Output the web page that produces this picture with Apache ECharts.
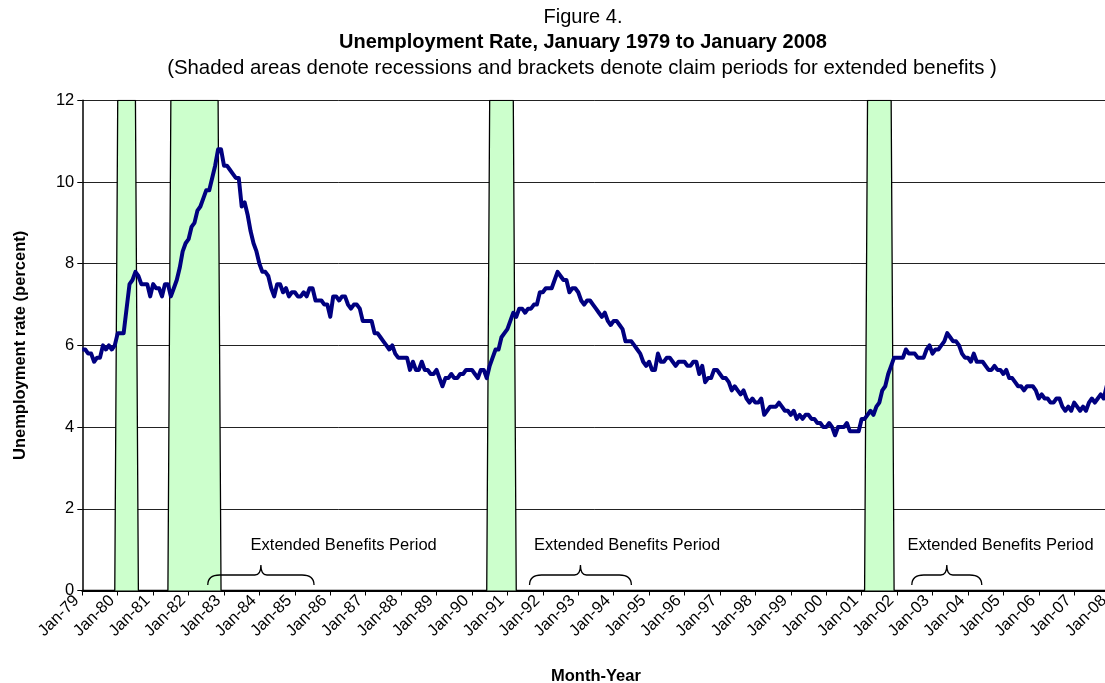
<!DOCTYPE html>
<html>
<head>
<meta charset="utf-8">
<script src="https://cdn.jsdelivr.net/npm/echarts@6/dist/echarts.min.js"></script>
<style>
html,body{margin:0;padding:0;background:#fff;}
#chart{width:1105px;height:683px;}
</style>
</head>
<body>
<div id="chart"></div>
<script>
// Monthly unemployment rate (percent), Jan 1979 .. Jan 2008 (index 0 = Jan-79)
const rate = [
5.9,5.9,5.8,5.8,5.6,5.7,5.7,6.0,5.9,6.0,5.9,6.0,   // 1979
6.3,6.3,6.3,6.9,7.5,7.6,7.8,7.7,7.5,7.5,7.5,7.2,   // 1980
7.5,7.4,7.4,7.2,7.5,7.5,7.2,7.4,7.6,7.9,8.3,8.5,   // 1981
8.6,8.9,9.0,9.3,9.4,9.6,9.8,9.8,10.1,10.4,10.8,10.8, // 1982
10.4,10.4,10.3,10.2,10.1,10.1,9.4,9.5,9.2,8.8,8.5,8.3, // 1983
8.0,7.8,7.8,7.7,7.4,7.2,7.5,7.5,7.3,7.4,7.2,7.3,   // 1984
7.3,7.2,7.2,7.3,7.2,7.4,7.4,7.1,7.1,7.1,7.0,7.0,   // 1985
6.7,7.2,7.2,7.1,7.2,7.2,7.0,6.9,7.0,7.0,6.9,6.6,   // 1986
6.6,6.6,6.6,6.3,6.3,6.2,6.1,6.0,5.9,6.0,5.8,5.7,   // 1987
5.7,5.7,5.7,5.4,5.6,5.4,5.4,5.6,5.4,5.4,5.3,5.3,   // 1988
5.4,5.2,5.0,5.2,5.2,5.3,5.2,5.2,5.3,5.3,5.4,5.4,   // 1989
5.4,5.3,5.2,5.4,5.4,5.2,5.5,5.7,5.9,5.9,6.2,6.3,   // 1990
6.4,6.6,6.8,6.7,6.9,6.9,6.8,6.9,6.9,7.0,7.0,7.3,   // 1991
7.3,7.4,7.4,7.4,7.6,7.8,7.7,7.6,7.6,7.3,7.4,7.4,   // 1992
7.3,7.1,7.0,7.1,7.1,7.0,6.9,6.8,6.7,6.8,6.6,6.5,   // 1993
6.6,6.6,6.5,6.4,6.1,6.1,6.1,6.0,5.9,5.8,5.6,5.5,   // 1994
5.6,5.4,5.4,5.8,5.6,5.6,5.7,5.7,5.6,5.5,5.6,5.6,   // 1995
5.6,5.5,5.5,5.6,5.6,5.3,5.5,5.1,5.2,5.2,5.4,5.4,   // 1996
5.3,5.2,5.2,5.1,4.9,5.0,4.9,4.8,4.9,4.7,4.6,4.7,   // 1997
4.6,4.6,4.7,4.3,4.4,4.5,4.5,4.5,4.6,4.5,4.4,4.4,   // 1998
4.3,4.4,4.2,4.3,4.2,4.3,4.3,4.2,4.2,4.1,4.1,4.0,   // 1999
4.0,4.1,4.0,3.8,4.0,4.0,4.0,4.1,3.9,3.9,3.9,3.9,   // 2000
4.2,4.2,4.3,4.4,4.3,4.5,4.6,4.9,5.0,5.3,5.5,5.7,   // 2001
5.7,5.7,5.7,5.9,5.8,5.8,5.8,5.7,5.7,5.7,5.9,6.0,   // 2002
5.8,5.9,5.9,6.0,6.1,6.3,6.2,6.1,6.1,6.0,5.8,5.7,   // 2003
5.7,5.6,5.8,5.6,5.6,5.6,5.5,5.4,5.4,5.5,5.4,5.4,   // 2004
5.3,5.4,5.2,5.2,5.1,5.0,5.0,4.9,5.0,5.0,5.0,4.9,   // 2005
4.7,4.8,4.7,4.7,4.6,4.6,4.7,4.7,4.5,4.4,4.5,4.4,   // 2006
4.6,4.5,4.4,4.5,4.4,4.6,4.7,4.6,4.7,4.8,4.7,5.0,   // 2007
5.0                                                // 2008
];

// Tick labels, one per January
const yearLabels = ['Jan-79','Jan-80','Jan-81','Jan-82','Jan-83','Jan-84','Jan-85','Jan-86','Jan-87','Jan-88',
  'Jan-89','Jan-90','Jan-91','Jan-92','Jan-93','Jan-94','Jan-95','Jan-96','Jan-97','Jan-98',
  'Jan-99','Jan-00','Jan-01','Jan-02','Jan-03','Jan-04','Jan-05','Jan-06','Jan-07','Jan-08'];

// Recessions: first and last month index (Jan-79 = 0)
const recessionStart = [12, 30, 138, 266];
const recessionEnd   = [18, 46, 146, 274];
const recessionLevel = 12;

// Extended benefits claim periods (month index) and where their labels start
const ebStart = [42.5, 151.5, 281];
const ebEnd   = [78.5, 186, 304.7];
const ebLabelAt = [57, 153, 279.5];
const ebLabel = 'Extended Benefits Period';

// ---- build series data ----
const lineData = rate.map((v, i) => [i, v]);
const recData = rate.map((_, i) => {
  let on = false;
  for (let k = 0; k < recessionStart.length; k++) {
    if (i >= recessionStart[k] && i <= recessionEnd[k]) on = true;
  }
  return [i, on ? recessionLevel : 0];
});
const ebData = ebStart.map((s, k) => [s, ebEnd[k], ebLabelAt[k], 0]);

const FONT = "'Liberation Sans', Arial, sans-serif";
const chart = echarts.init(document.getElementById('chart'), null, {renderer: 'canvas'});

chart.setOption({
  animation: false,
  backgroundColor: '#fff',
  graphic: [
    {type: 'text', x: 583, y: 17, style: {text: 'Figure 4.', font: '20px ' + FONT, fill: '#000', textAlign: 'center', textVerticalAlign: 'middle'}},
    {type: 'text', x: 583, y: 42, style: {text: 'Unemployment Rate, January 1979 to January 2008', font: 'bold 20px ' + FONT, fill: '#000', textAlign: 'center', textVerticalAlign: 'middle'}},
    {type: 'text', x: 582, y: 68, style: {text: '(Shaded areas denote recessions and brackets denote claim periods for extended benefits )', font: '20.4px ' + FONT, fill: '#000', textAlign: 'center', textVerticalAlign: 'middle'}}
  ],
  grid: {left: 82.3, top: 100.3, width: 1027.3, height: 490.2, containLabel: false, outerBoundsMode: 'none'},
  xAxis: {
    type: 'value', min: 0, max: 348, interval: 12,
    name: 'Month-Year', nameLocation: 'middle', nameGap: 77,
    nameTextStyle: {fontFamily: FONT, fontSize: 16.5, fontWeight: 'bold', color: '#000'},
    axisLine: {lineStyle: {color: '#000', width: 2}},
    axisTick: {show: true, length: 5, lineStyle: {color: '#000', width: 1}},
    axisLabel: {
      rotate: 45, margin: 2, padding: [0, 8, 0, 0], fontFamily: FONT, fontSize: 16.5, color: '#000',
      formatter: v => yearLabels[Math.round(v / 12)] || ''
    },
    splitLine: {show: false}
  },
  yAxis: {
    type: 'value', min: 0, max: 12, interval: 2,
    name: 'Unemployment rate (percent)', nameLocation: 'middle', nameGap: 53,
    nameTextStyle: {fontFamily: FONT, fontSize: 16.5, fontWeight: 'bold', color: '#000'},
    axisLine: {show: true, lineStyle: {color: '#000', width: 1.5}},
    axisTick: {show: true, length: 5, lineStyle: {color: '#000'}},
    axisLabel: {fontFamily: FONT, fontSize: 16.5, color: '#000', margin: 8},
    splitLine: {show: true, lineStyle: {color: '#222', width: 1}}
  },
  series: [
    {
      type: 'line', name: 'Recession', data: recData, symbol: 'none',
      lineStyle: {color: '#000', width: 1.3},
      areaStyle: {color: '#CCFFCC', opacity: 1},
      z: 2
    },
    {
      type: 'line', name: 'Unemployment rate', data: lineData, symbol: 'none',
      lineStyle: {color: '#000080', width: 4, join: 'round'},
      z: 4
    },
    {
      type: 'custom', name: 'Extended benefits', data: ebData,
      encode: {x: [0, 1, 2], y: 3}, clip: false, z: 5,
      renderItem: function (params, api) {
        const a = api.coord([api.value(0), 0]);
        const b = api.coord([api.value(1), 0]);
        const t = api.coord([api.value(2), 0]);
        const x0 = a[0], x1 = b[0], xm = (x0 + x1) / 2;
        const yb = a[1] - 5.5, yh = a[1] - 15.5, yp = a[1] - 25.5;
        const d = 'M' + x0 + ' ' + yb + ' Q' + x0 + ' ' + yh + ' ' + (x0 + 12) + ' ' + yh +
          ' L' + (xm - 6) + ' ' + yh + ' Q' + xm + ' ' + yh + ' ' + xm + ' ' + yp +
          ' Q' + xm + ' ' + yh + ' ' + (xm + 6) + ' ' + yh +
          ' L' + (x1 - 12) + ' ' + yh + ' Q' + x1 + ' ' + yh + ' ' + x1 + ' ' + yb;
        return {
          type: 'group',
          children: [
            {type: 'path', shape: {pathData: d}, style: {fill: 'none', stroke: '#000', lineWidth: 1.3}},
            {type: 'text', x: t[0], y: t[1] - 45.5,
              style: {text: ebLabel, font: '16.5px ' + FONT, fill: '#000', textAlign: 'left', textVerticalAlign: 'middle'}}
          ]
        };
      }
    }
  ]
});
</script>
</body>
</html>
